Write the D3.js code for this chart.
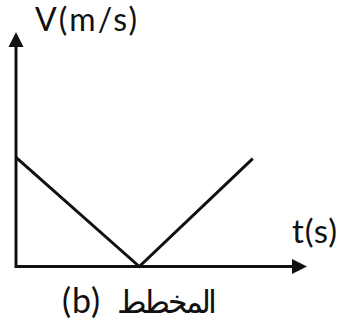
<!DOCTYPE html>
<html>
<head>
<meta charset="utf-8">
<script src="https://cdn.jsdelivr.net/npm/d3@7"></script>
<style>
  html, body { margin: 0; padding: 0; background: #fff; }
  svg { display: block; }
</style>
</head>
<body>
<svg id="chart" width="338" height="333"></svg>
<script>
// data (no units given on the axes)
const times = [0, 5, 9.6];
const speeds = [9.3, 0, 9.2];
const yLabel = "V(m/s)";
const xLabel = "t(s)";
const captionTag = "(b)";
const captionWord = "المخطط";

const svg = d3.select("#chart");

// scales
const x = d3.scaleLinear().domain([0, 11.8]).range([16, 307]);
const y = d3.scaleLinear().domain([0, 20]).range([266.5, 32]);

const ink = "#111";
const font = "Lato, 'DejaVu Sans', sans-serif";

// axes, drawn as plain lines with arrow heads
svg.append("line")
  .attr("x1", x(0)).attr("y1", y(0))
  .attr("x2", x.range()[1] - 10).attr("y2", y(0))
  .attr("stroke", ink).attr("stroke-width", 3);
svg.append("line")
  .attr("x1", x(0)).attr("y1", y(0) + 1.5)
  .attr("x2", x(0)).attr("y2", y.range()[1] + 10)
  .attr("stroke", ink).attr("stroke-width", 3);

// arrow heads
const xt = x.range()[1], yt = y.range()[1];
svg.append("path")
  .attr("d", `M${xt},${y(0)} L${xt - 15},${y(0) - 7.5} L${xt - 15},${y(0) + 7.5} Z`)
  .attr("fill", ink);
svg.append("path")
  .attr("d", `M${x(0)},${yt} L${x(0) - 7.5},${yt + 15} L${x(0) + 7.5},${yt + 15} Z`)
  .attr("fill", ink);

// the V shaped velocity line
const pts = times.map((t, i) => [t, speeds[i]]);
const line = d3.line().x(d => x(d[0])).y(d => y(d[1]));
svg.append("path")
  .datum(pts)
  .attr("d", line)
  .attr("fill", "none")
  .attr("stroke", ink)
  .attr("stroke-width", 3)
  .attr("stroke-linejoin", "miter");

// labels
const label = (txt, px, py, size) => svg.append("text")
  .attr("x", px).attr("y", py)
  .style("font-family", font)
  .style("font-size", size + "px")
  .attr("fill", ink)
  .text(txt);

label(yLabel, 35, 31, 32).attr("textLength", 102);
label(xLabel, 292, 243, 33).attr("textLength", 45);
label(captionTag, 62, 313, 34).attr("textLength", 38);
label(captionWord, 117, 313, 32).attr("textLength", 100);
</script>
</body>
</html>
